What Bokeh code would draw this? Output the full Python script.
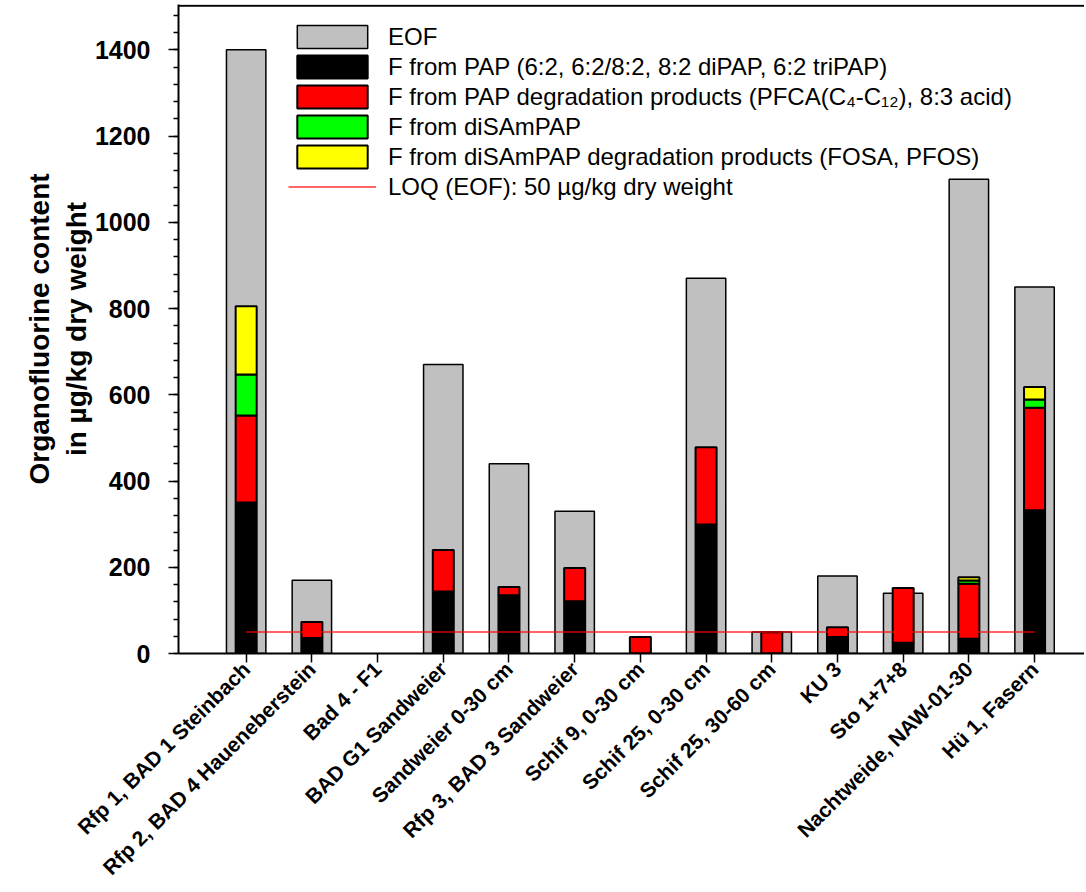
import math
import numpy as np
from bokeh.plotting import figure
from bokeh.models import (Range1d, SingleIntervalTicker, FixedTicker, Legend,
                          LegendItem, Span, ColumnDataSource)
from bokeh.embed import file_html
from bokeh.resources import INLINE

categories = ["Rfp 1, BAD 1 Steinbach", "Rfp 2, BAD 4 Haueneberstein", "Bad 4 - F1",
              "BAD G1 Sandweier", "Sandweier 0-30 cm", "Rfp 3, BAD 3 Sandweier",
              "Schif 9, 0-30 cm", "Schif 25, 0-30 cm", "Schif 25, 30-60 cm", "KU 3",
              "Sto 1+7+8", "Nachtweide, NAW-01-30", "Hü 1, Fasern"]
eof          = [1400, 170, 0, 670, 440, 330, 0, 870, 50, 180, 140, 1100, 850]
pap          = [350, 36, 0, 144, 135, 121, 0, 299, 0, 38, 25, 34, 332]
pap_deg      = [202, 37, 0, 96, 19, 77, 38, 179, 49, 23, 127, 128, 238]
disampap     = [95, 0, 0, 0, 0, 0, 0, 0, 0, 0, 0, 7, 19]
disampap_deg = [158, 0, 0, 0, 0, 0, 0, 0, 0, 0, 0, 8, 29]
loq = 50

labels = ["EOF",
          "F from PAP (6:2, 6:2/8:2, 8:2 diPAP, 6:2 triPAP)",
          "F from PAP degradation products (PFCA(C\u2084-C\u2081\u2082), 8:3 acid)",
          "F from diSAmPAP",
          "F from diSAmPAP degradation products (FOSA, PFOS)",
          "LOQ (EOF): 50 \u00b5g/kg dry weight"]

FONT = "Liberation Sans"
xs = np.arange(len(categories))

p = figure(width=1084, height=890, output_backend="svg", toolbar_location=None,
           x_range=Range1d(-1.03, 12.76), y_range=Range1d(0, 1505),
           min_border_left=178, min_border_right=0, min_border_top=4,
           min_border_bottom=236)
p.outline_line_color = None
p.grid.visible = False
p.background_fill_color = "white"

def seg_source(bottoms, heights):
    keep = [i for i, h in enumerate(heights) if h > 0]
    return ColumnDataSource(dict(x=[xs[i] for i in keep],
                                 bottom=[bottoms[i] for i in keep],
                                 top=[bottoms[i] + heights[i] for i in keep]))

zero = [0] * len(categories)
r_eof = p.vbar(x="x", bottom="bottom", top="top", width=0.6, source=seg_source(zero, eof),
               fill_color="#C0C0C0", line_color="black", line_width=1.5)

series = [pap, pap_deg, disampap, disampap_deg]
colors = ["black", "#FF0000", "#00FF00", "#FFFF00"]
base = np.zeros(len(categories))
seg_renderers = []
for vals, col in zip(series, colors):
    r = p.vbar(x="x", bottom="bottom", top="top", width=0.32,
               source=seg_source(list(base), vals),
               fill_color=col, line_color="black", line_width=2)
    seg_renderers.append(r)
    base = base + np.array(vals)

r_loq = p.line(x=[xs[0], xs[-1]], y=[loq, loq], line_color="#FF0000", line_width=1.5,
               line_alpha=0.8)

p.add_layout(Span(location=1502, dimension="width", line_color="black", line_width=2))

# axes
p.xaxis.ticker = FixedTicker(ticks=list(xs))
p.xaxis.major_label_overrides = {int(i): c for i, c in zip(xs, categories)}
p.xaxis.major_label_orientation = math.pi / 4
p.xaxis.major_label_text_font = FONT
p.xaxis.major_label_text_font_style = "bold"
p.xaxis.major_label_text_font_size = "21px"
p.xaxis.major_label_text_color = "black"
p.xaxis.major_label_standoff = 3
p.xaxis.major_tick_out = 9
p.xaxis.major_tick_in = 0
p.xaxis.minor_tick_line_color = None
p.xaxis.axis_line_width = 2
p.xaxis.major_tick_line_width = 1.5

p.yaxis.ticker = SingleIntervalTicker(interval=200, num_minor_ticks=5)
p.yaxis.major_label_text_font = FONT
p.yaxis.major_label_text_font_style = "bold"
p.yaxis.major_label_text_font_size = "25px"
p.yaxis.major_label_text_color = "black"
p.yaxis.major_label_standoff = 18
p.yaxis.major_tick_out = 10
p.yaxis.major_tick_in = 0
p.yaxis.minor_tick_out = 5
p.yaxis.minor_tick_in = 0
p.yaxis.axis_line_width = 2
p.yaxis.major_tick_line_width = 1.5
p.yaxis.minor_tick_line_width = 1.5
p.yaxis.axis_label = "Organofluorine content\nin \u00b5g/kg dry weight"
p.yaxis.axis_label_text_font = FONT
p.yaxis.axis_label_text_font_style = "bold"
p.yaxis.axis_label_text_font_size = "28px"
p.yaxis.axis_label_text_color = "black"
p.yaxis.axis_label_standoff = 0

legend = Legend(items=[LegendItem(label=labels[0], renderers=[r_eof])] +
                [LegendItem(label=l, renderers=[r]) for l, r in zip(labels[1:5], seg_renderers)] +
                [LegendItem(label=labels[5], renderers=[r_loq])],
                location=(110, 452), padding=0, margin=0, spacing=1,
                glyph_width=88, glyph_height=29, label_standoff=12,
                label_text_font=FONT, label_text_font_size="24px",
                label_text_color="black",
                border_line_color=None, background_fill_alpha=0)
p.add_layout(legend, "center")

open("out.html", "w").write(file_html(p, INLINE))
